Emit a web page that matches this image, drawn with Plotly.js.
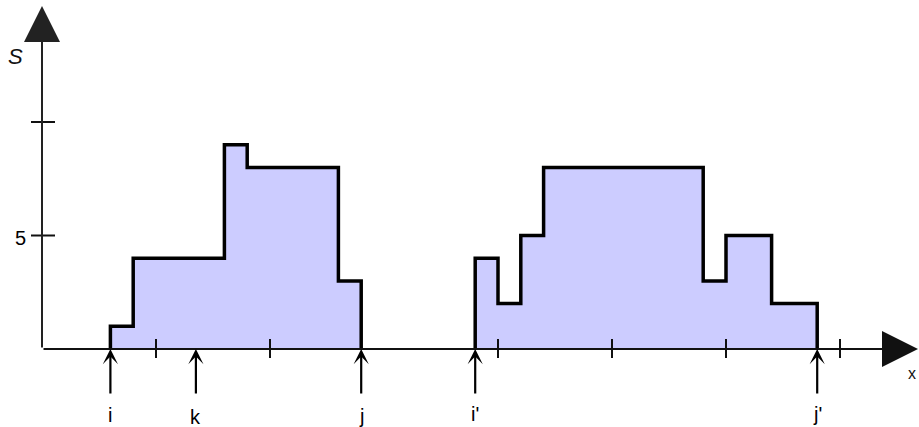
<!DOCTYPE html>
<html>
<head>
<meta charset="utf-8">
<script src="https://cdn.plot.ly/plotly-3.0.1.min.js"></script>
<style>html,body{margin:0;padding:0;background:#fff;}#chart{width:919px;height:427px;}</style>
</head>
<body>
<div id="chart"></div>
<script>
// Step profile 1 (edges and heights)
var leftX = [3, 3, 4, 8, 9, 13, 14, 14];
var leftY = [0, 1, 4, 9, 8, 3, 3, 0];
// Step profile 2
var rightX = [19, 19, 20, 21, 22, 29, 30, 32, 34, 34];
var rightY = [0, 4, 2, 5, 8, 3, 5, 2, 2, 0];
// Marked positions on x axis
var markX = [3, 6.75, 14, 19, 34];
var markLabels = ['i', 'k', 'j', "i'", "j'"];
var markLabelShift = [-53, -55, -54, -52, -52];
// Axis ticks
var xTicks = [5, 10, 20, 25, 30, 35];
var yTicks = [5, 10];
var yTickLabels = ['5', ''];

var X0 = -42 / 22.8, X1 = (919 - 42) / 22.8;
var Y1 = 349 / 22.7, Y0 = -(427 - 349) / 22.7;
var xEnd = (918 - 42) / 22.8, yEnd = (349 - 6) / 22.7;

var fillCol = 'rgb(204,204,255)';
var lblFont = {family: 'Liberation Sans, Arial, sans-serif', size: 20, color: '#000'};
var traces = [
  {x: leftX, y: leftY, type: 'scatter', mode: 'lines', line: {shape: 'hv', color: '#000', width: 3.5}, fill: 'tozeroy', fillcolor: fillCol, hoverinfo: 'skip'},
  {x: rightX, y: rightY, type: 'scatter', mode: 'lines', line: {shape: 'hv', color: '#000', width: 3.5}, fill: 'tozeroy', fillcolor: fillCol, hoverinfo: 'skip'}
];

var shapes = [];
xTicks.forEach(function (t) {
  shapes.push({type: 'line', xref: 'x', yref: 'y', ysizemode: 'pixel', yanchor: 0, x0: t, x1: t, y0: -9, y1: 10, line: {color: '#111', width: 2}});
});
yTicks.forEach(function (t) {
  shapes.push({type: 'line', xref: 'x', yref: 'y', xsizemode: 'pixel', xanchor: 0, y0: t, y1: t, x0: -11, x1: 13, line: {color: '#111', width: 2}});
});

var ann = [];
// axes with arrowheads
ann.push({xref: 'x', yref: 'y', axref: 'x', ayref: 'y', x: xEnd, y: 0, ax: 0, ay: 0, text: '', showarrow: true, arrowhead: 2, arrowsize: 3.6, arrowwidth: 2, arrowcolor: '#111', standoff: 0});
ann.push({xref: 'x', yref: 'y', axref: 'x', ayref: 'y', x: 0, y: yEnd, ax: 0, ay: 0, text: '', showarrow: true, arrowhead: 2, arrowsize: 3.6, arrowwidth: 2, arrowcolor: '#222', standoff: 0});
// marker arrows
markX.forEach(function (m, k) {
  ann.push({xref: 'x', yref: 'y', axref: 'x', ayref: 'y', x: m, y: 0, ax: m, ay: -46 / 22.7, text: '', showarrow: true, arrowhead: 3, arrowsize: 1.15, arrowwidth: 2.2, arrowcolor: '#000', standoff: 0});
  ann.push({xref: 'x', yref: 'y', x: m, y: 0, text: markLabels[k], showarrow: false, yanchor: 'top', yshift: markLabelShift[k], font: lblFont});
});
yTicks.forEach(function (t, k) {
  if (yTickLabels[k]) ann.push({xref: 'x', yref: 'y', x: 0, y: t, text: yTickLabels[k], showarrow: false, xanchor: 'center', yanchor: 'middle', xshift: -22, yshift: -2, font: lblFont});
});
ann.push({xref: 'paper', yref: 'paper', x: 15 / 919, y: 1 - 56 / 427, xanchor: 'center', yanchor: 'middle', text: '<i>S</i>', showarrow: false, font: {family: 'Liberation Sans, Arial, sans-serif', size: 22, color: '#111'}});
ann.push({xref: 'paper', yref: 'paper', x: 1, y: 1 - 373 / 427, xanchor: 'right', yanchor: 'middle', xshift: -1, text: 'x', showarrow: false, font: {family: 'Liberation Sans, Arial, sans-serif', size: 16, color: '#111'}});

var layout = {
  width: 919, height: 427,
  margin: {l: 0, r: 0, t: 0, b: 0},
  paper_bgcolor: '#fff', plot_bgcolor: '#fff',
  showlegend: false,
  xaxis: {range: [X0, X1], visible: false, fixedrange: true},
  yaxis: {range: [Y0, Y1], visible: false, fixedrange: true},
  shapes: shapes,
  annotations: ann
};
Plotly.newPlot('chart', traces, layout, {staticPlot: true});
</script>
</body>
</html>
